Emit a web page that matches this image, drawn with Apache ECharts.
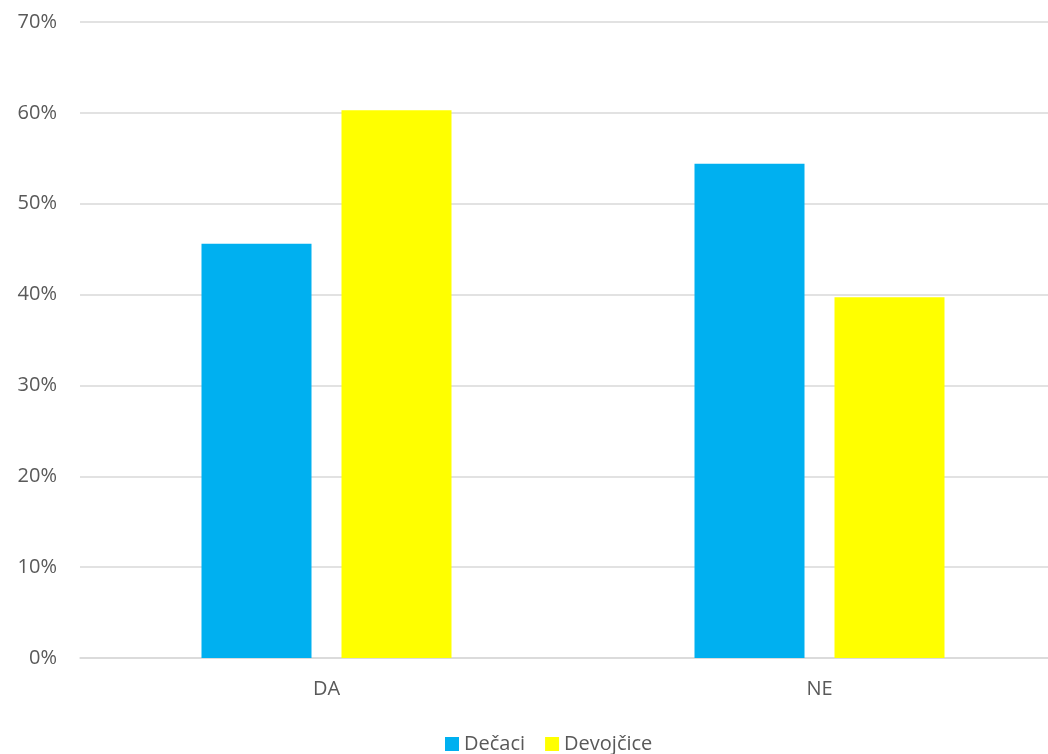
<!DOCTYPE html>
<html>
<head>
<meta charset="utf-8">
<script src="https://cdn.jsdelivr.net/npm/echarts@6/dist/echarts.min.js"></script>
<style>
html,body{margin:0;padding:0;background:#fff;overflow:hidden;width:1048px;height:754px;}
#chart{width:1066px;height:754px;}
</style>
</head>
<body>
<div id="chart"></div>
<script>
const categories = ['DA', 'NE'];
const seriesNames = ['Dečaci', 'Devojčice'];
const decaci = [45.6, 54.4];
const devojcice = [60.3, 39.7];
const colors = ['#00B0F0', '#FFFF00'];

const chart = echarts.init(document.getElementById('chart'), null, {renderer: 'canvas'});
const textStyle = {fontFamily: 'Open Sans', fontSize: 20, color: '#595959'};
chart.setOption({
  animation: false,
  backgroundColor: '#ffffff',
  textStyle: textStyle,
  grid: {left: 80, right: 0, top: 22, bottom: 96, containLabel: false},
  legend: {
    data: seriesNames,
    left: 440,
    top: 729,
    itemWidth: 14,
    itemHeight: 14,
    itemGap: 20,
    icon: 'rect',
    textStyle: {fontFamily: 'Open Sans', fontSize: 20, color: '#595959'}
  },
  xAxis: {
    type: 'category',
    data: categories,
    axisLine: {show: true, lineStyle: {color: '#D9D9D9', width: 1.5}},
    axisTick: {show: false},
    axisLabel: {fontFamily: 'Open Sans', fontSize: 20, color: '#595959', margin: 21}
  },
  yAxis: {
    type: 'value',
    min: 0,
    max: 70,
    interval: 10,
    axisLine: {show: false},
    axisTick: {show: false},
    splitLine: {lineStyle: {color: '#D9D9D9', width: 1.5}},
    axisLabel: {fontFamily: 'Open Sans', fontSize: 20, color: '#595959', margin: 23, formatter: '{value}%'}
  },
  series: [
    {name: seriesNames[0], type: 'bar', data: decaci, barWidth: 110, barGap: '27.27%', itemStyle: {color: colors[0]}},
    {name: seriesNames[1], type: 'bar', data: devojcice, barWidth: 110, barGap: '27.27%', itemStyle: {color: colors[1]}}
  ]
});
</script>
</body>
</html>
